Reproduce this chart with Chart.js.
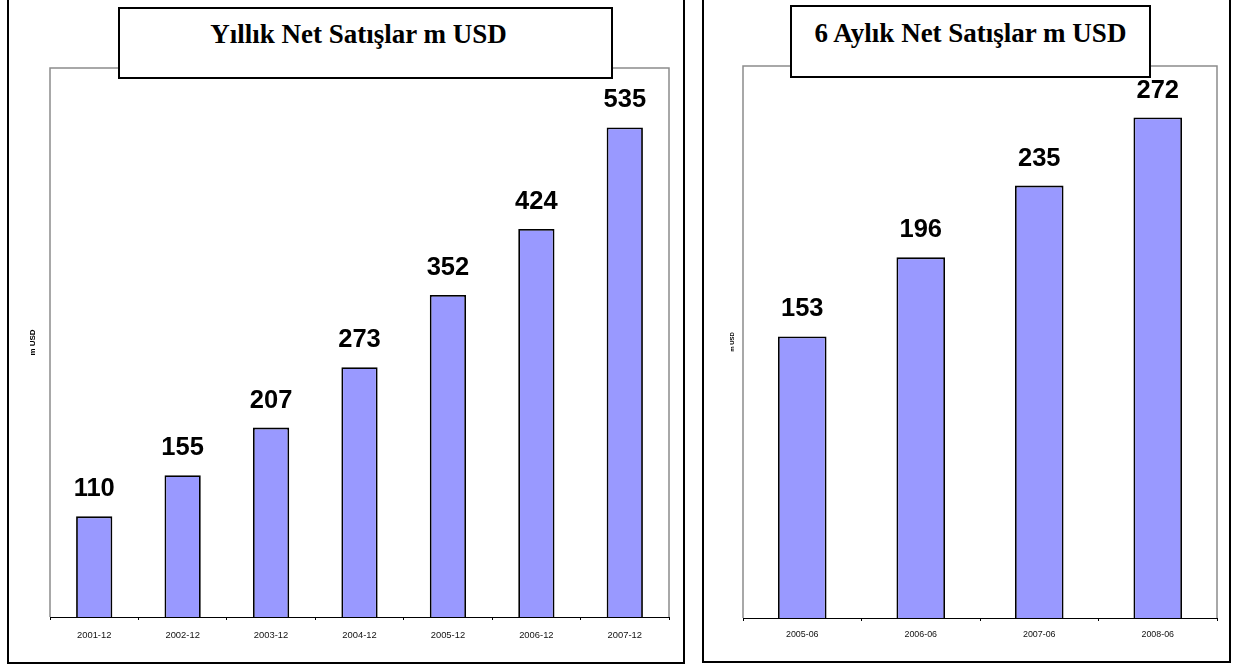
<!DOCTYPE html>
<html>
<head>
<meta charset="utf-8">
<script src="https://cdn.jsdelivr.net/npm/chart.js@4.4.1/dist/chart.umd.min.js"></script>
<style>
  html, body { margin:0; padding:0; background:#fff; width:1234px; height:667px; overflow:hidden; position:relative; }
  .panel { position:absolute; border:2px solid #000; box-sizing:border-box; }
  .tbox { position:absolute; border:2px solid #000; box-sizing:border-box; background:#fff; z-index:5; }
  .ttext { position:absolute; left:0; right:0; text-align:center; white-space:nowrap;
           font-family:"Liberation Serif","Times New Roman",serif; font-weight:bold; font-size:27px; line-height:30px; color:#000; }
  canvas { position:absolute; top:0; }
</style>
</head>
<body>
<div class="panel" style="left:7px; top:-4px; width:678px; height:668px;"></div>
<div class="panel" style="left:702px; top:-4px; width:529px; height:667px;"></div>

<canvas id="c1" width="684" height="667" style="left:0px;"></canvas>
<canvas id="c2" width="550" height="667" style="left:684px;"></canvas>

<div class="tbox" style="left:118px; top:7px; width:495px; height:72px;">
  <div class="ttext" style="top:10px; padding-right:14px;">Yıllık Net Satışlar m USD</div>
</div>
<div class="tbox" style="left:790px; top:5px; width:361px; height:73px;">
  <div class="ttext" style="top:11px;">6 Aylık Net Satışlar m USD</div>
</div>

<script>
// ---- data ----
const yearCategories = ['2001-12','2002-12','2003-12','2004-12','2005-12','2006-12','2007-12'];
const yearValues = [110, 155, 207, 273, 352, 424, 535];
const halfCategories = ['2005-06','2006-06','2007-06','2008-06'];
const halfValues = [153, 196, 235, 272];
const axisTitle = 'm USD';

const frameAndLabels = {
  id: 'frameAndLabels',
  beforeDatasetsDraw(chart) {
    const a = chart.chartArea, ctx = chart.ctx;
    ctx.save();
    ctx.strokeStyle = '#8c8c8c';
    ctx.lineWidth = 1.5;
    ctx.beginPath();
    ctx.moveTo(a.left, a.bottom);
    ctx.lineTo(a.left, a.top);
    ctx.lineTo(a.right, a.top);
    ctx.lineTo(a.right, a.bottom);
    ctx.stroke();
    ctx.restore();
  },
  afterDatasetsDraw(chart) {
    const ctx = chart.ctx;
    const meta = chart.getDatasetMeta(0);
    const data = chart.data.datasets[0].data;
    ctx.save();
    ctx.font = 'bold 25.5px "Liberation Sans", Arial, sans-serif';
    ctx.fillStyle = '#000';
    ctx.textAlign = 'center';
    ctx.textBaseline = 'alphabetic';
    meta.data.forEach((bar, i) => {
      ctx.fillText(String(data[i]), bar.x, bar.y - 20);
    });
    ctx.restore();
  }
};

function makeChart(id, cats, vals, opts) {
  return new Chart(document.getElementById(id), {
    type: 'bar',
    data: {
      labels: cats,
      datasets: [{
        data: vals,
        backgroundColor: '#9999FF',
        borderColor: '#000',
        borderWidth: 1.8,
        categoryPercentage: 1.0,
        barPercentage: 0.41
      }]
    },
    options: {
      responsive: false,
      animation: false,
      devicePixelRatio: 1,
      layout: { padding: opts.padding },
      plugins: { legend: { display: false }, tooltip: { enabled: false }, title: { display: false } },
      scales: {
        x: {
          offset: true,
          grid: { display: true, drawOnChartArea: false, drawTicks: true, tickLength: 3, color: '#000', lineWidth: 1, offset: true },
          border: { display: true, color: '#000', width: 1 },
          ticks: { color: '#111', font: { family: '"Liberation Sans", Arial, sans-serif', size: opts.tickSize }, padding: opts.tickPad, maxRotation: 0, autoSkip: false },
          afterFit(s) { s.height = 30; }
        },
        y: {
          min: 0, max: opts.max,
          grid: { display: false },
          border: { display: false },
          ticks: { display: false },
          title: { display: true, text: axisTitle, color: '#000',
                   font: { family: '"Liberation Sans", Arial, sans-serif', size: opts.titleSize, weight: 'bold' },
                   padding: { top: opts.titlePadTop, bottom: 0 } },
          afterFit(s) { s.width = opts.yWidth; }
        }
      }
    },
    plugins: [frameAndLabels]
  });
}

makeChart('c1', yearCategories, yearValues, {
  padding: { left: 26, top: 68, right: 15, bottom: 20 },
  yWidth: 24, max: 600, tickSize: 9.4, tickPad: 10, titleSize: 8, titlePadTop: 2.2
});
makeChart('c2', halfCategories, halfValues, {
  padding: { left: 40, top: 66, right: 17, bottom: 19 },
  yWidth: 19, max: 300, tickSize: 8.9, tickPad: 8.5, titleSize: 6, titlePadTop: 4.4
});
</script>
</body>
</html>
